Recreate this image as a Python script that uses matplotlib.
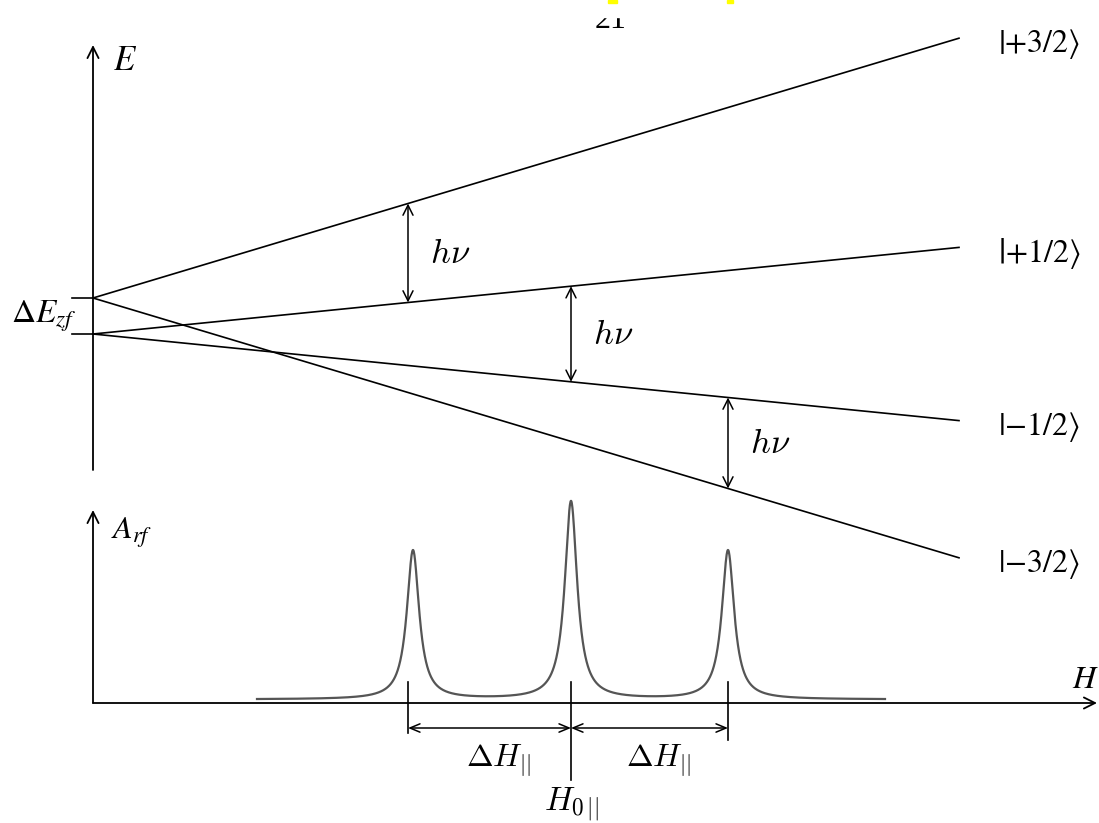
"""Zero-field splitting of an S=3/2 ion in a field H, with the three EPR lines below."""
import matplotlib

matplotlib.use("Agg")
import matplotlib.pyplot as plt
import numpy as np

plt.rcParams["mathtext.fontset"] = "stix"

# energy levels (plot units: 1 unit = 100 px)
m_s = [1.5, 0.5, -0.5, -1.5]
level_labels = [r"$\left|{+}3/2\right\rangle$", r"$\left|{+}1/2\right\rangle$",
                r"$\left|{-}1/2\right\rangle$", r"$\left|{-}3/2\right\rangle$"]
E_zero = [0.18, -0.18, -0.18, 0.18]   # zero-field energies, +-D
g_mu = 0.2                            # slope per unit of m_s
H_end = 8.66

# allowed transitions: lower level, upper level, resonance field
trans_lower = [0.5, -0.5, -1.5]
trans_upper = [1.5, 0.5, -0.5]
trans_H = [3.15, 4.78, 6.35]

# absorption spectrum
peak_H = [3.20, 4.78, 6.35]
peak_A = [1.49, 1.98, 1.49]
peak_gamma = 0.075
spec_offset = 0.035
spec_start, spec_stop = 1.64, 7.92


def level(m, H):
    return E_zero[m_s.index(m)] + g_mu * m * H


def arrow(ax, p0, p1, style="->", hl=0.8, hw=0.4, lw=1.3):
    ax.annotate("", xy=p1, xytext=p0,
                arrowprops=dict(arrowstyle=f"{style},head_length={hl},head_width={hw}",
                                lw=lw, color="black", shrinkA=0, shrinkB=0,
                                mutation_scale=10))


fig = plt.figure(figsize=(10.99, 8.23), dpi=100)

# ---- energy level diagram
ax = fig.add_axes([0, 0, 1, 1])
ax.set_xlim(-0.93, 10.06)
ax.set_ylim(-5.07, 3.16)
ax.axis("off")

arrow(ax, (0, -1.54), (0, 2.71))
ax.text(0.2, 2.56, r"$E$", fontsize=25, ha="left", va="center")

for m, lab in zip(m_s, level_labels):
    ax.plot([0, H_end], [level(m, 0), level(m, H_end)], color="black", lw=1.2)
    ax.text(9.05, level(m, H_end) - 0.06, lab, fontsize=23, ha="left", va="center")

for e in sorted(set(E_zero)):
    ax.plot([-0.21, 0], [e, e], color="black", lw=1.2)
ax.text(-0.17, 0.0, r"$\Delta E_{zf}$", fontsize=24, ha="right", va="center")

for lo, up, h in zip(trans_lower, trans_upper, trans_H):
    e_lo, e_up = level(lo, h), level(up, h)
    arrow(ax, (h, e_up), (h, e_lo), style="<->", hl=0.72, hw=0.36, lw=1.1)
    ax.text(h + 0.22, (e_lo + e_up) / 2, r"$h\nu$", fontsize=25, ha="left",
            va="center", math_fontfamily="cm")

# ---- absorption spectrum
bx = fig.add_axes([0, 0, 1, 1])
bx.set_xlim(-0.93, 10.06)
bx.set_ylim(-1.20, 7.03)
bx.axis("off")

arrow(bx, (0, 0), (0, 1.93))
arrow(bx, (0, 0), (10.04, 0))
bx.text(0.18, 1.70, r"$A_{rf}$", fontsize=23, ha="left", va="center")
bx.text(9.92, 0.23, r"$H$", fontsize=23, ha="center", va="center")

H = np.linspace(spec_start, spec_stop, 2000)
A = np.full_like(H, spec_offset)
for h0, a0 in zip(peak_H, peak_A):
    A += a0 * peak_gamma ** 2 / ((H - h0) ** 2 + peak_gamma ** 2)
bx.plot(H, A, color="#555555", lw=1.6)

tick_lo = [-0.30, -0.77, -0.37]
for h, lo in zip(trans_H, tick_lo):
    bx.plot([h, h], [0.21, lo], color="black", lw=1.2)
for h0, h1 in zip(trans_H[:-1], trans_H[1:]):
    arrow(bx, (h0, -0.25), (h1, -0.25), style="<->", hl=0.72, hw=0.3, lw=1.1)
    bx.text((h0 + h1) / 2 + 0.09, -0.57, r"$\Delta H_{||}$", fontsize=23,
            ha="center", va="center", math_fontfamily="cm")
bx.text(trans_H[1], -1.02, r"$H_{0\,||}$", fontsize=24, ha="center", va="center",
        math_fontfamily="cm")

# page residue at the top edge
fig.text(611 / 1099, 1 - 28 / 823, "21", fontsize=23, ha="center", va="baseline",
         family="Liberation Serif")
fig.patches.append(plt.Rectangle((585 / 1099, 1 - 17 / 823), 50 / 1099, 17 / 823,
                                 transform=fig.transFigure, color="white", zorder=5))
for x0, w in [(608, 9), (727, 6)]:
    fig.patches.append(plt.Rectangle((x0 / 1099, 1 - 2.5 / 823), w / 1099, 2.5 / 823,
                                     transform=fig.transFigure, color="#ffff00", zorder=6))

fig.savefig("out.png", dpi=100)
